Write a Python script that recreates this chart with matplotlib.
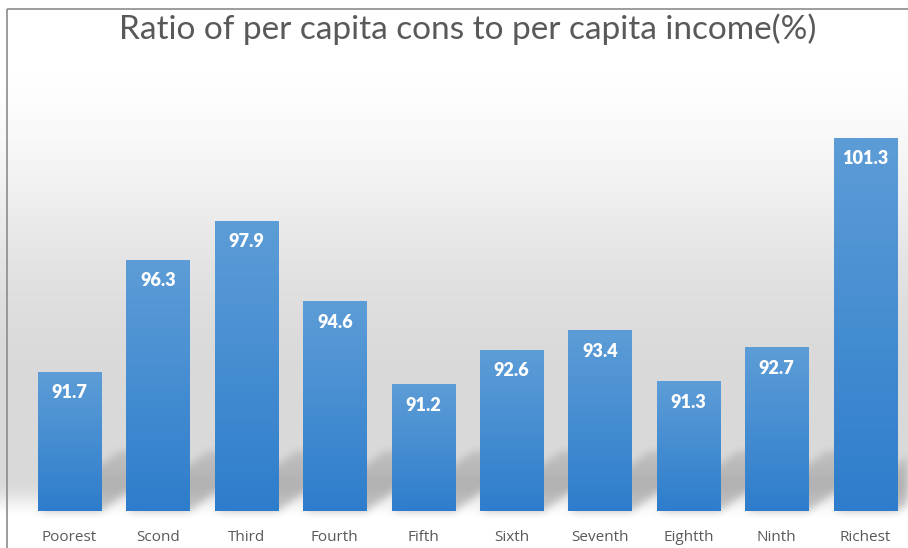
import numpy as np
import matplotlib.pyplot as plt
from matplotlib.patches import Rectangle

groups = ['Poorest', 'Scond', 'Third', 'Fourth', 'Fifth',
          'Sixth', 'Seventh', 'Eightth', 'Ninth', 'Richest']
ratio = [91.7, 96.3, 97.9, 94.6, 91.2, 92.6, 93.4, 91.3, 92.7, 101.3]
title = 'Ratio of per capita cons to per capita income(%)'

W, H = 908, 548
ymin, ymax = 86, 104.1
base_px, top_px = 511, 70          # plot area in pixels (from top)
left_px, step_px = 25.3, 88.4      # category slots
bar_w = 0.713

fig = plt.figure(figsize=(W / 100, H / 100), dpi=100)

# --- background: soft gray gradient plus cast shadows of the bars ---
yy, xx = np.mgrid[0:H, 0:W].astype(float)
def smooth(a, b, v):
    t = np.clip((v - a) / (b - a), 0, 1)
    return t * t * (3 - 2 * t)
bg = 1 - 0.15 * smooth(40, 380, yy)
bg = bg + 0.15 * smooth(480, 520, yy)

shadow = np.zeros((H, W))
for i, v in enumerate(ratio):
    cx = left_px + step_px * (i + 0.5)
    x0 = cx - bar_w * step_px / 2
    x1 = cx + bar_w * step_px / 2
    h = 60
    # parallelogram leaning to the right from the bar foot
    t = np.clip((base_px - yy) / h, 0, 1)
    off = t * 80
    inside = (yy <= base_px) & (yy >= base_px - h) & \
             (xx >= x0 + off) & (xx <= x1 + off)
    shadow[inside] = np.maximum(shadow[inside], 1 - t[inside] * 0.5)
k = 9
ker = np.ones(k) / k
for _ in range(2):
    shadow = np.apply_along_axis(lambda r: np.convolve(r, ker, 'same'), 1, shadow)
    shadow = np.apply_along_axis(lambda c: np.convolve(c, ker, 'same'), 0, shadow)
bg = np.clip(bg - 0.2 * shadow, 0, 1)

bg_ax = fig.add_axes([0, 0, 1, 1])
bg_ax.imshow(bg, cmap='gray', vmin=0, vmax=1, extent=(0, W, H, 0),
             aspect='auto', interpolation='bilinear')
bg_ax.add_patch(Rectangle((7, 9), W, H, fill=False, ec='#8c8c8c', lw=1.2))
bg_ax.set_xlim(0, W)
bg_ax.set_ylim(H, 0)
bg_ax.axis('off')

# --- bar chart ---
ax = fig.add_axes([left_px / W, (H - base_px) / H,
                   step_px * len(groups) / W, (base_px - top_px) / H])
ax.patch.set_alpha(0)
ax.set_xlim(-0.5, len(groups) - 0.5)
ax.set_ylim(ymin, ymax)

top_c = np.array([93, 157, 215]) / 255
bot_c = np.array([46, 125, 204]) / 255
grad = np.linspace(0, 1, 100)[:, None, None]
grad_img = top_c * (1 - grad) + bot_c * grad

for i, v in enumerate(ratio):
    ax.imshow(grad_img, extent=(i - bar_w / 2, i + bar_w / 2, ymin, v),
              aspect='auto', interpolation='bilinear', zorder=2)
    ax.text(i, v - 0.85, f'{v:.1f}', ha='center', va='center',
            color='white', fontsize=13, fontweight='heavy',
            family='Lato', zorder=3)

ax.set_xticks(range(len(groups)))
ax.set_xticklabels(groups, family='Open Sans', fontsize=11, color='#595959')
ax.tick_params(axis='x', length=0, pad=14)
ax.set_yticks([])
for s in ax.spines.values():
    s.set_visible(False)

fig.text(468 / W, 1 - 29 / H, title, ha='center', va='center',
         family='Lato', fontsize=24, color='#595959')

fig.savefig('out.png', dpi=100)
